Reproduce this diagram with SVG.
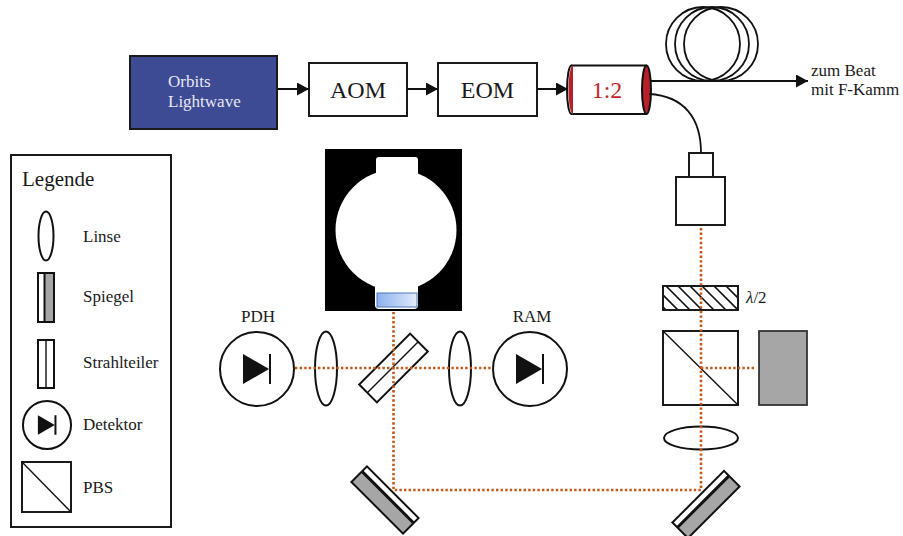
<svg xmlns="http://www.w3.org/2000/svg" width="903" height="536" viewBox="0 0 903 536">
  <style>
    text { font-family: "Liberation Serif", "Times New Roman", serif; fill: #1a1a1a; }
    .lbl { font-size: 17px; }
    .big { font-size: 24px; }
    .box { fill: #fff; stroke: #1a1a1a; stroke-width: 2; }
    .line { fill: none; stroke: #111; stroke-width: 2; }
    .thin { fill: none; stroke: #111; stroke-width: 1.4; }
    .lens { fill: #fff; stroke: #111; stroke-width: 2; }
    .gray { fill: #a6a6a6; }
    .beam { fill: none; stroke: #c4581a; stroke-width: 2.6; stroke-dasharray: 2.4 2.2; }
    .fiber { fill: none; stroke: #111; stroke-width: 1.8; }
  </style>
  <defs>
    <marker id="arrow" markerUnits="userSpaceOnUse" markerWidth="13" markerHeight="14" refX="12" refY="6.5" orient="auto">
      <path d="M0,0 L12,6.5 L0,13 z" fill="#111"/>
    </marker>
    <linearGradient id="window" x1="0" y1="0" x2="1" y2="0">
      <stop offset="0" stop-color="#8cb1f0"/>
      <stop offset="1" stop-color="#e2ebfb"/>
    </linearGradient>
    <clipPath id="plateClip"><rect x="663" y="286" width="75" height="24"/></clipPath>
    <!-- photodiode symbol, centred on the origin -->
    <g id="diode">
      <circle r="37" fill="#fff" stroke="#111" stroke-width="2" vector-effect="non-scaling-stroke"/>
      <path d="M-14,-15 L-14,15 L12,0 z" fill="#111"/>
      <path d="M13,-15 V15" stroke="#111" stroke-width="2" vector-effect="non-scaling-stroke"/>
    </g>
    <!-- plane mirror: reflective coating (white) over a grey substrate -->
    <g id="mirror">
      <rect x="-36.5" y="-11" width="73" height="22" fill="#fff"/>
      <rect x="-36.5" y="-4" width="73" height="15" class="gray"/>
      <path d="M-36.5,-4 H36.5" stroke="#111" stroke-width="3"/>
      <rect x="-36.5" y="-11" width="73" height="22" fill="none" stroke="#111" stroke-width="2"/>
    </g>
  </defs>

  <!-- laser source -->
  <g id="laser">
    <rect x="130" y="56" width="147" height="73" fill="#3d4a94" stroke="#1a1a1a" stroke-width="2"/>
    <text x="168" y="87" class="lbl" style="fill:#e6e8f2">Orbits</text>
    <text x="168" y="107" class="lbl" style="fill:#e6e8f2">Lightwave</text>
  </g>

  <g id="aom">
    <rect x="309" y="63" width="98" height="53" class="box"/>
    <text x="358" y="98" class="big" text-anchor="middle">AOM</text>
  </g>

  <g id="eom">
    <rect x="438" y="63" width="99" height="53" class="box"/>
    <text x="487.5" y="98" class="big" text-anchor="middle">EOM</text>
  </g>

  <!-- 1:2 fibre splitter drawn as a cylinder -->
  <g id="splitter">
    <rect x="571" y="65.5" width="76" height="48.5" fill="#fff"/>
    <path d="M571,65.5 H647 M571,114 H647" class="line"/>
    <path d="M573,65.5 A4.5,24.25 0 0 0 573,114 Z" fill="#b5202a"/>
    <path d="M571.5,65.5 A4.5,24.25 0 0 0 571.5,114" class="line"/>
    <ellipse cx="646.5" cy="89.75" rx="4.5" ry="24.25" fill="#b5202a" stroke="#111" stroke-width="2"/>
    <text x="607" y="98" class="big" text-anchor="middle" style="fill:#c0282c">1:2</text>
  </g>

  <!-- fibre spool -->
  <g id="spool">
    <circle cx="703" cy="44" r="37" class="fiber"/>
    <circle cx="712" cy="44" r="37" class="fiber"/>
    <circle cx="721" cy="44" r="37" class="fiber"/>
  </g>

  <g id="beat-label">
    <text x="811" y="76" class="lbl">zum Beat</text>
    <text x="811" y="95" class="lbl">mit F-Kamm</text>
  </g>

  <!-- fibre collimator -->
  <g id="collimator">
    <rect x="689" y="153" width="24" height="24" class="box"/>
    <rect x="676" y="177" width="49" height="48" class="box"/>
  </g>

  <!-- half-wave plate -->
  <g id="halfwave">
    <rect x="663" y="286" width="75" height="24" fill="#fff"/>
    <g clip-path="url(#plateClip)" stroke="#111" stroke-width="1.6">
      <path d="M642,286 l24,24 M654,286 l24,24 M666,286 l24,24 M678,286 l24,24 M690,286 l24,24 M702,286 l24,24 M714,286 l24,24 M726,286 l24,24"/>
    </g>
    <rect x="663" y="286" width="75" height="24" fill="none" stroke="#1a1a1a" stroke-width="2"/>
    <text x="746" y="303" class="lbl"><tspan font-style="italic">λ</tspan>/2</text>
  </g>

  <!-- polarising beam splitter and beam dump -->
  <g id="pbs">
    <rect x="663" y="331" width="75" height="74" class="box"/>
    <path d="M663,331 L738,405" class="thin"/>
  </g>
  <g id="dump">
    <rect x="759" y="331" width="48" height="74" class="gray" stroke="#333" stroke-width="1.8"/>
  </g>

  <g id="lens-right">
    <ellipse cx="701" cy="438" rx="37" ry="11.5" class="lens"/>
  </g>

  <g id="mirror-left">
    <use href="#mirror" transform="translate(385,500) rotate(45)"/>
  </g>
  <g id="mirror-right">
    <use href="#mirror" transform="translate(706,504.5) rotate(-45)"/>
  </g>

  <!-- optical cavity in its vacuum housing -->
  <g id="cavity">
    <rect x="325" y="149" width="137" height="162" fill="#000"/>
    <g fill="#fff">
      <circle cx="396" cy="230" r="60.5"/>
      <rect x="376" y="157" width="42" height="30" rx="3"/>
      <rect x="375" y="270" width="43" height="39" rx="4"/>
    </g>
    <rect x="377" y="293" width="40" height="14" fill="url(#window)" stroke="#4f79b8" stroke-width="1"/>
  </g>

  <g id="lens-pdh">
    <ellipse cx="326" cy="368.5" rx="11" ry="37" class="lens"/>
  </g>
  <g id="lens-ram">
    <ellipse cx="460" cy="368.5" rx="11" ry="37" class="lens"/>
  </g>

  <g id="beamsplitter">
    <g transform="translate(393.5,368) rotate(-45)">
      <rect x="-36" y="-12.5" width="72" height="25" fill="#fff" stroke="#111" stroke-width="2"/>
      <path d="M-36,-1 H36" class="thin"/>
    </g>
  </g>

  <g id="pdh">
    <use href="#diode" transform="translate(257,369)"/>
    <text x="258" y="322" class="lbl" text-anchor="middle">PDH</text>
  </g>
  <g id="ram">
    <use href="#diode" transform="translate(530,369)"/>
    <text x="532" y="322" class="lbl" text-anchor="middle">RAM</text>
  </g>

  <!-- signal chain and beam paths -->
  <g id="connectors">
    <path d="M277,89 H309" class="line" marker-end="url(#arrow)"/>
    <path d="M407,89 H438" class="line" marker-end="url(#arrow)"/>
    <path d="M537,89 H568" class="line" marker-end="url(#arrow)"/>
    <path d="M650,81 H808" class="line" marker-end="url(#arrow)"/>
    <path d="M649,94 C684,96 701,118 701,153" class="fiber"/>
    <path d="M701,228 V490 H393.5 V312" class="beam"/>
    <path d="M295,368 H493" class="beam"/>
    <path d="M701,368 H756" class="beam"/>
  </g>

  <!-- legend -->
  <g id="legend">
    <rect x="11" y="155" width="160" height="372" fill="#fff" stroke="#1a1a1a" stroke-width="2"/>
    <text x="22" y="186" style="font-size:21px">Legende</text>

    <ellipse cx="46" cy="236" rx="7.5" ry="24.5" class="lens"/>
    <text x="83" y="242" class="lbl">Linse</text>

    <rect x="38" y="273" width="6" height="49" fill="#fff"/>
    <rect x="45" y="273" width="9" height="49" class="gray"/>
    <path d="M44.5,273 V322" stroke="#111" stroke-width="2"/>
    <rect x="38" y="273" width="16" height="49" fill="none" stroke="#111" stroke-width="2"/>
    <text x="83" y="302" class="lbl">Spiegel</text>

    <rect x="38" y="340" width="16" height="48" fill="#fff" stroke="#111" stroke-width="2"/>
    <path d="M46,340 V388" class="thin"/>
    <text x="83" y="368" class="lbl">Strahlteiler</text>

    <use href="#diode" transform="translate(47,425) scale(0.65)"/>
    <text x="83" y="430" class="lbl">Detektor</text>

    <rect x="22" y="462" width="49" height="50" class="box"/>
    <path d="M22,462 L71,512" class="thin"/>
    <text x="83" y="493" class="lbl">PBS</text>
  </g>
</svg>
